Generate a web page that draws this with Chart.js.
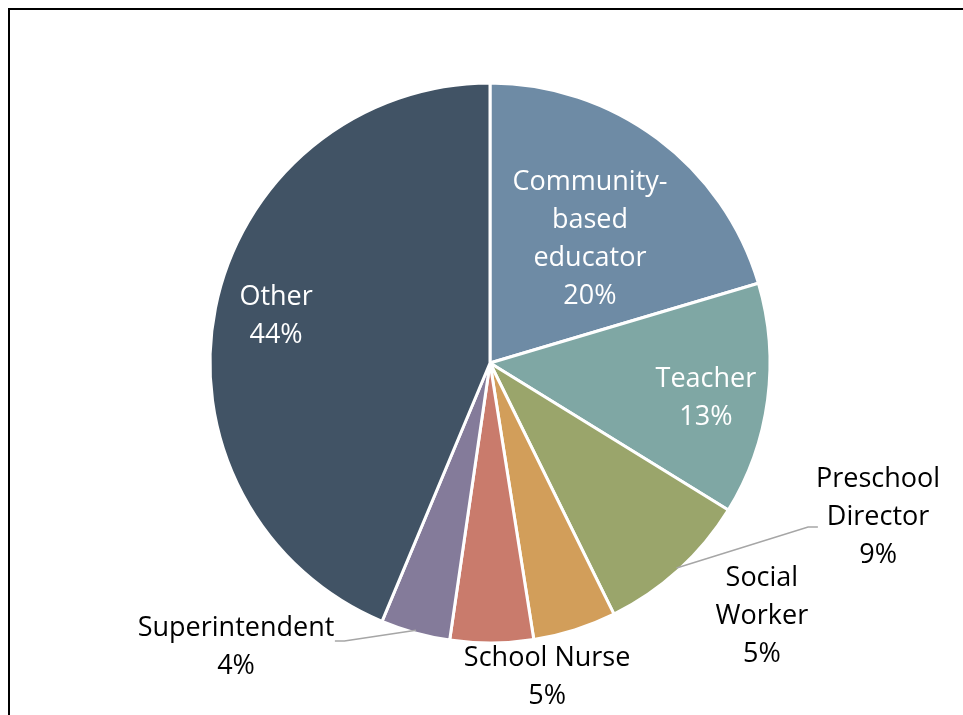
<!DOCTYPE html>
<html lang="en">
<head>
  <meta charset="UTF-8">
  <title>Roles</title>
  <script src="https://cdn.jsdelivr.net/npm/chart.js"></script>
  <style>
    html, body { margin: 0; padding: 0; background: #fff; overflow: hidden; }
    .frame {
      position: absolute; left: 8px; top: 8px; width: 980px; height: 720px;
      border-top: 2px solid #000; border-left: 2px solid #000;
    }
    .wrap { position: absolute; left: 0; top: 0; width: 963px; height: 715px; }
  </style>
</head>
<body>
  <div class="frame"></div>
  <div class="wrap"><canvas id="pie" width="963" height="715"></canvas></div>
  <script>
    // data
    const categories = ['Community-based educator', 'Teacher', 'Preschool Director', 'Social Worker', 'School Nurse', 'Superintendent', 'Other'];
    const shares = [20.4, 13.4, 8.9, 4.8, 4.8, 4.0, 43.7];
    const labelLines = [['Community-', 'based', 'educator'], ['Teacher'], ['Preschool', 'Director'], ['Social', 'Worker'], ['School Nurse'], ['Superintendent'], ['Other']];
    const sliceColors = ['#6E8BA5', '#7FA7A4', '#9AA56B', '#D29E5A', '#C97B6C', '#847B9A', '#415365'];

    // label placement, in units of the pie radius, from the centre
    const labelSpots = [
      { dx: 0.357, dy: -0.441, color: '#fff' },
      { dx: 0.771, dy: 0.125, color: '#fff' },
      { dx: 1.386, dy: 0.55, color: '#000', leader: [1.136, 0.586, 1.171, 0.586] },
      { dx: 0.971, dy: 0.904, color: '#000' },
      { dx: 0.204, dy: 1.121, color: '#000' },
      { dx: -0.907, dy: 1.014, color: '#000', leader: [-0.52, 0.993, -0.554, 0.993] },
      { dx: -0.764, dy: -0.168, color: '#fff' }
    ];

    const total = shares.reduce((a, b) => a + b, 0);

    const sliceLabels = {
      id: 'sliceLabels',
      afterDatasetsDraw(chart) {
        const ctx = chart.ctx;
        const arcs = chart.getDatasetMeta(0).data;
        const cx = arcs[0].x, cy = arcs[0].y, R = arcs[0].outerRadius;
        ctx.save();
        ctx.font = '27px "Open Sans"';
        ctx.textAlign = 'center';
        ctx.textBaseline = 'middle';
        arcs.forEach((arc, i) => {
          const spot = labelSpots[i];
          if (spot.leader) {
            const mid = (arc.startAngle + arc.endAngle) / 2;
            ctx.strokeStyle = '#A6A6A6';
            ctx.lineWidth = 1.5;
            ctx.beginPath();
            ctx.moveTo(cx + Math.cos(mid) * R * 0.99, cy + Math.sin(mid) * R * 0.99);
            ctx.lineTo(cx + spot.leader[0] * R, cy + spot.leader[1] * R);
            ctx.lineTo(cx + spot.leader[2] * R, cy + spot.leader[3] * R);
            ctx.stroke();
          }
          const lines = labelLines[i].concat([Math.round(shares[i] / total * 100) + '%']);
          const lh = 38;
          const x = cx + spot.dx * R;
          let y = cy + spot.dy * R - (lines.length - 1) * lh / 2;
          ctx.fillStyle = spot.color;
          lines.forEach(t => { ctx.fillText(t, x, y); y += lh; });
        });
        ctx.restore();
      }
    };

    new Chart(document.getElementById('pie'), {
      type: 'pie',
      data: {
        labels: categories,
        datasets: [{
          data: shares,
          backgroundColor: sliceColors,
          borderColor: '#fff',
          borderWidth: 3
        }]
      },
      options: {
        responsive: false,
        animation: false,
        layout: { padding: { left: 208.5, right: 191.5, top: 81.5, bottom: 70.5 } },
        plugins: { legend: { display: false }, tooltip: { enabled: false } }
      },
      plugins: [sliceLabels]
    });
  </script>
</body>
</html>
